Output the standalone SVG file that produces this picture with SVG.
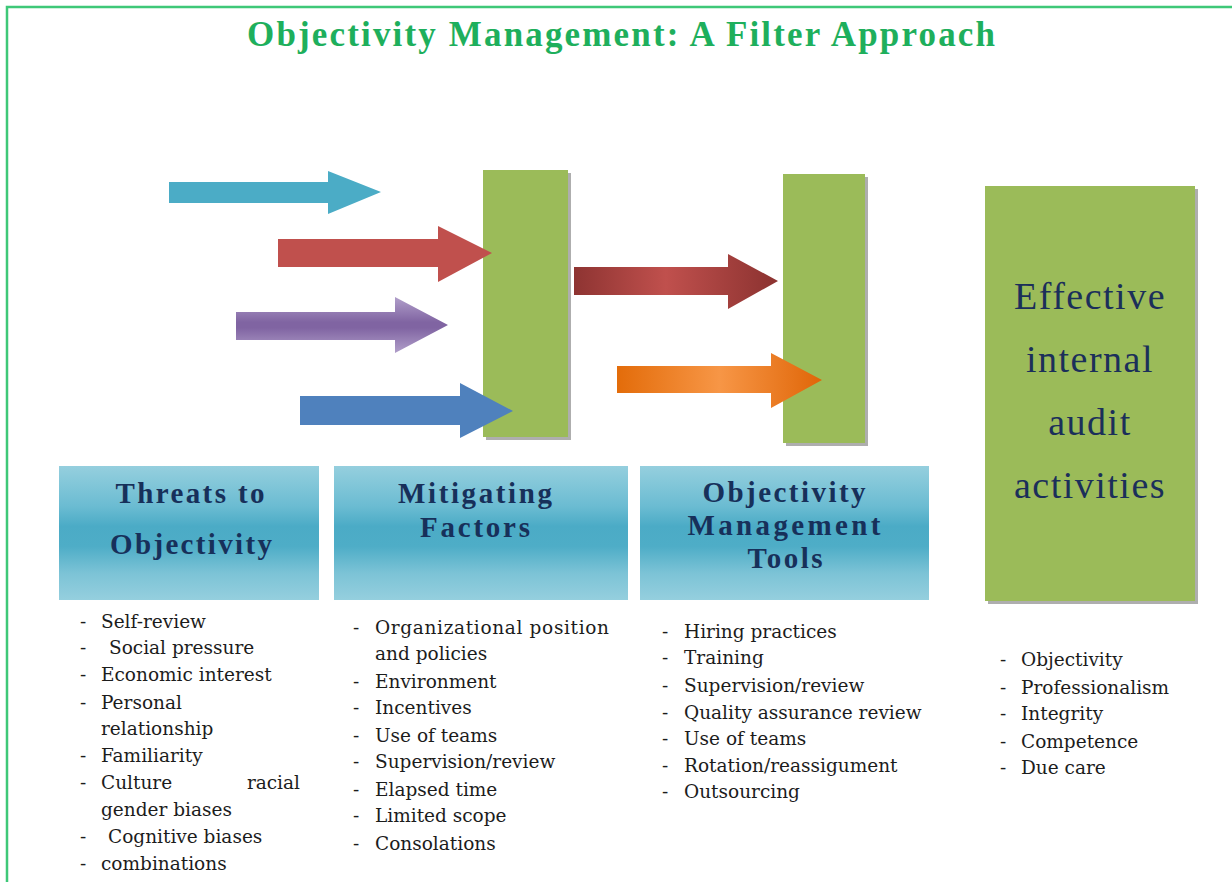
<svg xmlns="http://www.w3.org/2000/svg" width="1232" height="882" viewBox="0 0 1232 882">
  <style>
    .title { font-family: "Liberation Serif", "Times New Roman", serif; font-weight: bold; font-size: 35px; fill: #1eaf5c; }
    .head { font-family: "Liberation Serif", "Times New Roman", serif; font-weight: bold; font-size: 29px; fill: #17305a; text-anchor: middle; }
    .big { font-family: "Liberation Serif", "Times New Roman", serif; font-size: 38px; fill: #1b2f5a; text-anchor: middle; letter-spacing: 1.5px; }
    .li { font-family: "DejaVu Serif", "Liberation Serif", serif; font-size: 18.5px; fill: #1c1c1c; }
    .bar { fill: #9bbb59; }
    .shadow { fill: #9a9a9a; opacity: 0.8; }
    .band { fill: url(#band); }
  </style>
  <defs>
    <linearGradient id="band" x1="0" y1="0" x2="0" y2="1">
      <stop offset="0" stop-color="#95cfde"/>
      <stop offset="0.3" stop-color="#6bbcd2"/>
      <stop offset="0.45" stop-color="#4babc6"/>
      <stop offset="0.6" stop-color="#4eadc7"/>
      <stop offset="0.8" stop-color="#7cc3d6"/>
      <stop offset="1" stop-color="#95cfde"/>
    </linearGradient>
    <linearGradient id="purple" x1="0" y1="0" x2="0" y2="1">
      <stop offset="0" stop-color="#b19fca"/>
      <stop offset="0.45" stop-color="#8064a2"/>
      <stop offset="0.55" stop-color="#8064a2"/>
      <stop offset="1" stop-color="#b19fca"/>
    </linearGradient>
    <linearGradient id="maroon" x1="0" y1="0" x2="1" y2="0">
      <stop offset="0" stop-color="#8e3432"/>
      <stop offset="0.45" stop-color="#c0504d"/>
      <stop offset="1" stop-color="#8b3230"/>
    </linearGradient>
    <linearGradient id="orange" x1="0" y1="0" x2="1" y2="0">
      <stop offset="0" stop-color="#e36c0a"/>
      <stop offset="0.5" stop-color="#f79646"/>
      <stop offset="1" stop-color="#e06608"/>
    </linearGradient>
  </defs>

  <rect x="0" y="0" width="1232" height="882" fill="#ffffff"/>
  <!-- frame -->
  <path d="M7,882 V7 H1232" fill="none" stroke="#3ec878" stroke-width="2.5"/>

  <text class="title" x="247" y="46" textLength="748" lengthAdjust="spacing">Objectivity Management: A Filter Approach</text>

  <!-- filter bars -->
  <g id="filter-1">
    <rect class="shadow" x="486" y="173" width="85" height="267"/>
    <rect class="bar" x="483" y="170" width="85" height="267"/>
  </g>
  <g id="filter-2">
    <rect class="shadow" x="786" y="177" width="82" height="269"/>
    <rect class="bar" x="783" y="174" width="82" height="269"/>
  </g>
  <g id="outcome">
    <rect class="shadow" x="988" y="189" width="210" height="415"/>
    <rect class="bar" x="985" y="186" width="210" height="415"/>
    <text class="big" x="1090" y="309">Effective</text>
    <text class="big" x="1090" y="372">internal</text>
    <text class="big" x="1090" y="435">audit</text>
    <text class="big" x="1090" y="498">activities</text>
  </g>

  <!-- arrows -->
  <g id="connectors">
    <polygon fill="#4bacc6" points="169,182 328,182 328,171 381,192 328,214 328,203 169,203"/>
    <polygon fill="#c0504d" points="278,239 438,239 438,226 492,253 438,282 438,267 278,267"/>
    <polygon fill="url(#purple)" points="236,312 395,312 395,297 448,325 395,353 395,340 236,340"/>
    <polygon fill="#4f81bd" points="300,396 460,396 460,383 513,411 460,438 460,425 300,425"/>
    <polygon fill="url(#maroon)" points="574,267 728,267 728,254 778,281 728,309 728,295 574,295"/>
    <polygon fill="url(#orange)" points="617,366 771,366 771,353 822,380 771,408 771,393 617,393"/>
  </g>

  <!-- category headers -->
  <g id="threats">
    <rect class="band" x="59" y="466" width="260" height="134"/>
    <text class="head" x="190" y="503" textLength="149" lengthAdjust="spacing">Threats to</text>
    <text class="head" x="191" y="554" textLength="162" lengthAdjust="spacing">Objectivity</text>
  </g>
  <g id="mitigating">
    <rect class="band" x="334" y="466" width="294" height="134"/>
    <text class="head" x="475" y="503" textLength="154" lengthAdjust="spacing">Mitigating</text>
    <text class="head" x="475" y="537" textLength="110" lengthAdjust="spacing">Factors</text>
  </g>
  <g id="tools">
    <rect class="band" x="640" y="466" width="289" height="134"/>
    <text class="head" x="784" y="502" textLength="163" lengthAdjust="spacing">Objectivity</text>
    <text class="head" x="784" y="535" textLength="193" lengthAdjust="spacing">Management</text>
    <text class="head" x="785" y="568" textLength="75" lengthAdjust="spacing">Tools</text>
  </g>

  <!-- item lists -->
  <g id="threat-list" class="li">
    <text x="80" y="628">-</text><text x="101" y="628">Self-review</text>
    <text x="80" y="654">-</text><text x="109" y="654">Social pressure</text>
    <text x="80" y="681">-</text><text x="101" y="681">Economic interest</text>
    <text x="80" y="709">-</text><text x="101" y="709">Personal</text>
    <text x="101" y="735">relationship</text>
    <text x="80" y="762">-</text><text x="101" y="762">Familiarity</text>
    <text x="80" y="789">-</text><text x="101" y="789">Culture</text><text x="300" y="789" text-anchor="end">racial</text>
    <text x="101" y="816">gender biases</text>
    <text x="80" y="843">-</text><text x="108" y="843">Cognitive biases</text>
    <text x="80" y="870">-</text><text x="101" y="870">combinations</text>
  </g>
  <g id="mitigating-list" class="li">
    <text x="353" y="634">-</text><text x="375" y="634" textLength="234" lengthAdjust="spacing">Organizational  position</text>
    <text x="375" y="660">and policies</text>
    <text x="353" y="688">-</text><text x="375" y="688">Environment</text>
    <text x="353" y="714">-</text><text x="375" y="714">Incentives</text>
    <text x="353" y="742">-</text><text x="375" y="742">Use of teams</text>
    <text x="353" y="768">-</text><text x="375" y="768">Supervision/review</text>
    <text x="353" y="796">-</text><text x="375" y="796">Elapsed time</text>
    <text x="353" y="822">-</text><text x="375" y="822">Limited scope</text>
    <text x="353" y="850">-</text><text x="375" y="850">Consolations</text>
  </g>
  <g id="tools-list" class="li">
    <text x="662" y="638">-</text><text x="684" y="638">Hiring practices</text>
    <text x="662" y="664">-</text><text x="684" y="664">Training</text>
    <text x="662" y="692">-</text><text x="684" y="692">Supervision/review</text>
    <text x="662" y="719">-</text><text x="684" y="719">Quality assurance review</text>
    <text x="662" y="745">-</text><text x="684" y="745">Use of teams</text>
    <text x="662" y="772">-</text><text x="684" y="772">Rotation/reassigument</text>
    <text x="662" y="798">-</text><text x="684" y="798">Outsourcing</text>
  </g>
  <g id="outcome-list" class="li">
    <text x="1000" y="666">-</text><text x="1021" y="666">Objectivity</text>
    <text x="1000" y="694">-</text><text x="1021" y="694">Professionalism</text>
    <text x="1000" y="720">-</text><text x="1021" y="720">Integrity</text>
    <text x="1000" y="748">-</text><text x="1021" y="748">Competence</text>
    <text x="1000" y="774">-</text><text x="1021" y="774">Due care</text>
  </g>
</svg>
